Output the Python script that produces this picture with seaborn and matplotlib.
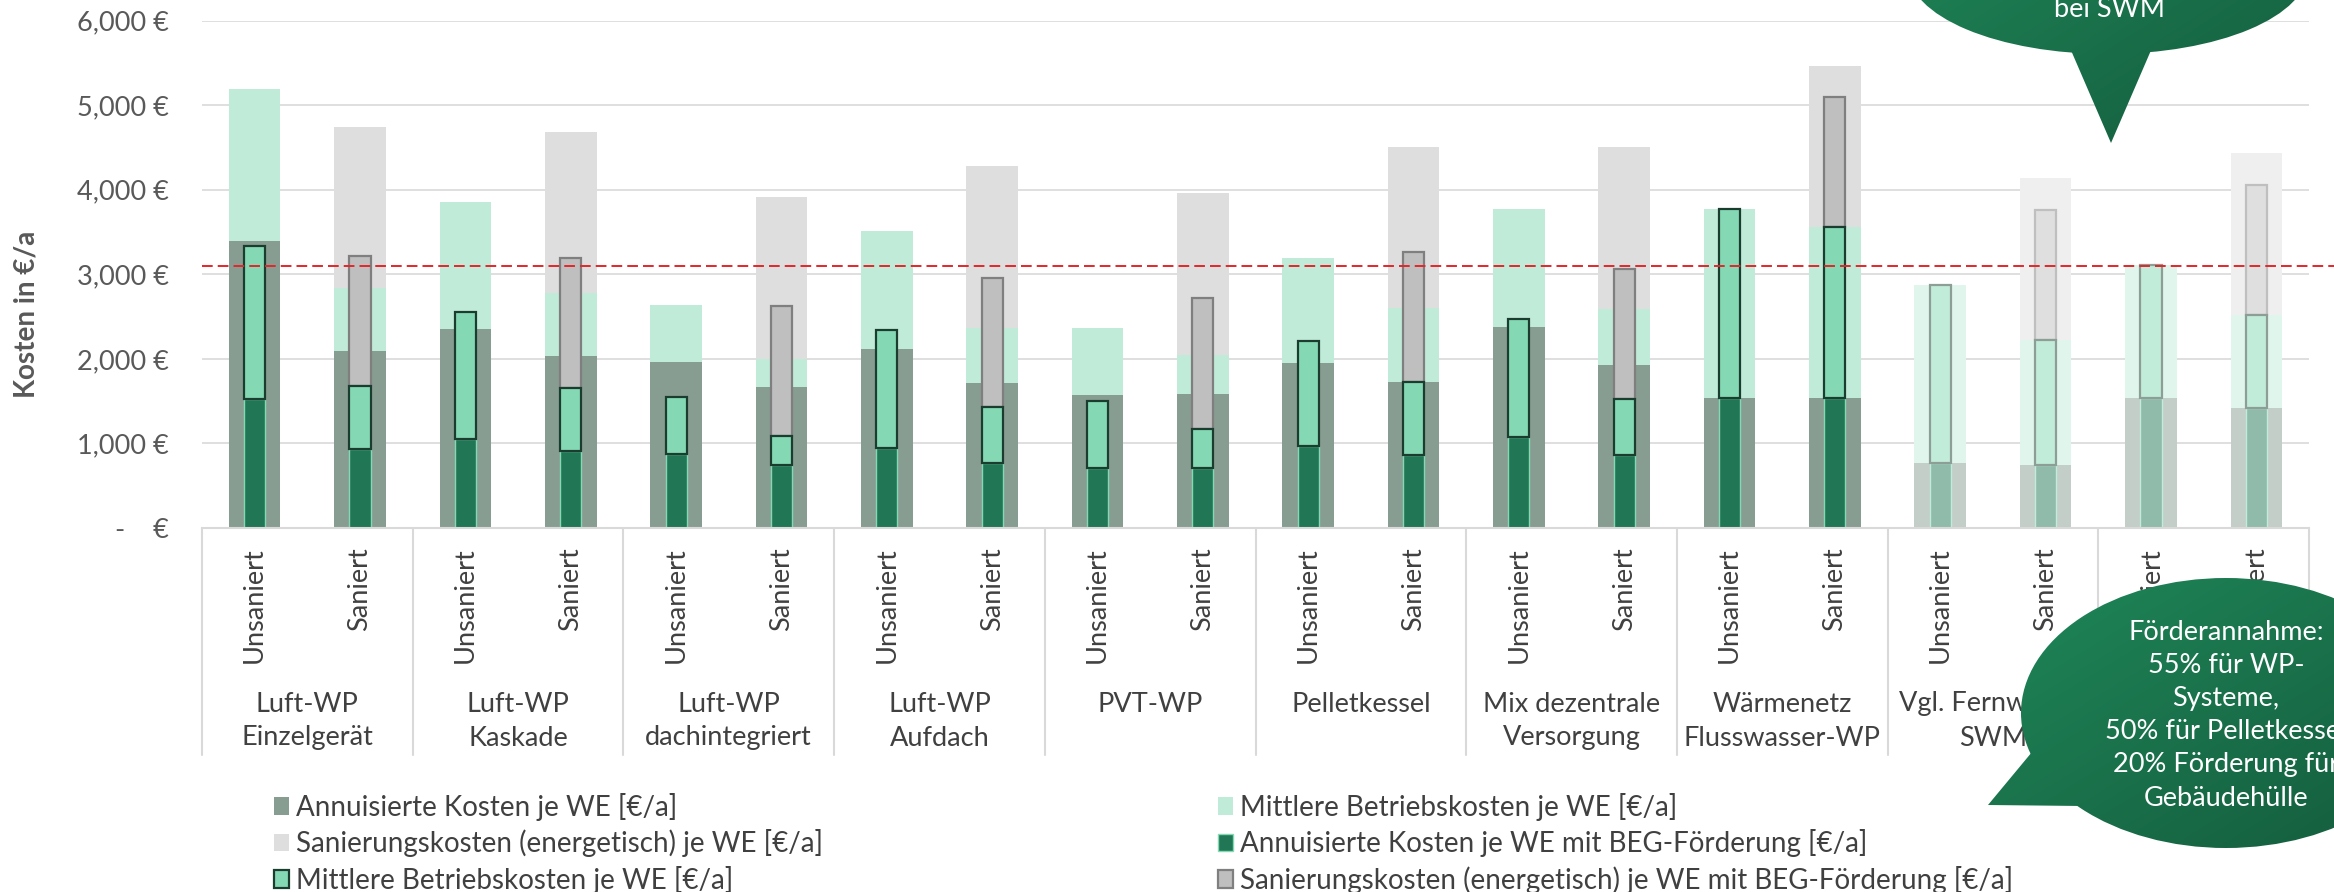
import numpy as np
import matplotlib
matplotlib.use("Agg")
import matplotlib.pyplot as plt
import matplotlib.transforms as mtransforms
from matplotlib.patches import Patch, Ellipse, Polygon
from matplotlib.colors import to_rgb
import seaborn as sns

# ---------------- data ----------------
gruppen = [
    "Luft-WP\nEinzelgerät", "Luft-WP\nKaskade", "Luft-WP\ndachintegriert",
    "Luft-WP\nAufdach", "PVT-WP", "Pelletkessel", "Mix dezentrale\nVersorgung",
    "Wärmenetz\nFlusswasser-WP", "Vgl. Fernwärme\nSWM", "",
]
zustand = ["Unsaniert", "Saniert"]

# annuitized cost per dwelling unit [€/a]
annuisiert = [3390, 2095, 2355, 2030, 1962, 1666, 2118, 1712, 1569, 1581,
              1953, 1729, 2376, 1924, 1539, 1539, 770, 740, 1543, 1425]
# mean operating cost per dwelling unit [€/a]
betrieb = [1800, 745, 1495, 746, 672, 336, 1394, 658, 800, 461,
           1236, 868, 1394, 664, 2230, 2017, 2103, 1480, 1565, 1091]
# energetic refurbishment cost per dwelling unit [€/a]
sanierung = [0, 1905, 0, 1910, 0, 1912, 0, 1907, 0, 1915,
             0, 1912, 0, 1915, 0, 1911, 0, 1920, 0, 1920]
# annuitized cost with BEG funding [€/a]
annuisiert_beg = [1531, 939, 1057, 909, 875, 748, 951, 770, 706, 715,
                  973, 863, 1078, 867, 1539, 1539, 770, 740, 1543, 1425]
# refurbishment cost with BEG funding [€/a]
sanierung_beg = [0, 1535, 0, 1539, 0, 1544, 0, 1531, 0, 1539,
                 0, 1535, 0, 1535, 0, 1543, 0, 1539, 0, 1539]
referenzwert = 3100

blasse_gruppen = [8, 9]   # comparison groups shown faded

legend_namen = [
    "Annuisierte Kosten je WE [€/a]",
    "Sanierungskosten (energetisch) je WE [€/a]",
    "Mittlere Betriebskosten je WE [€/a]",
    "Mittlere Betriebskosten je WE [€/a]",
    "Annuisierte Kosten je WE mit BEG-Förderung [€/a]",
    "Sanierungskosten (energetisch) je WE mit BEG-Förderung [€/a]",
]
ytick_werte = [0, 1000, 2000, 3000, 4000, 5000, 6000]
ytick_texte = ["-    €", "1,000 €", "2,000 €", "3,000 €", "4,000 €", "5,000 €", "6,000 €"]

foerder_text = ["Förderannahme:", "55% für WP-", "Systeme,",
                "50% für Pelletkessel", "20% Förderung für", "Gebäudehülle"]
swm_text = "bei SWM"

# ---------------- styling ----------------
sns.set_theme(style="white")
plt.rcParams["font.family"] = ["Lato", "DejaVu Sans"]

W, H = 2334, 892
fig = plt.figure(figsize=(W / 100, H / 100), dpi=100)
X0, X1, Y_TOP, Y_ZERO = 202, 2309, 20.7, 528.0
ax = fig.add_axes([X0 / W, 1 - Y_ZERO / H, (X1 - X0) / W, (Y_ZERO - Y_TOP) / H])

FS = 19.5
TXT = "#404040"


def blass(c):
    r = np.array(to_rgb(c))
    return tuple(0.5 * r + 0.5)


C_ANN = "#889D92"
C_BET = "#C1EBD9"
C_SAN = "#DEDEDE"
C_ANN_B = "#217655"
C_BET_N = "#84D9B4"
C_SAN_B = "#BFBFBF"
E_BET_N = "#1B3D2F"
E_SAN_B = "#7F7F7F"

ids = [f"{g.replace(chr(10), ' ')}|{z}|{i}" for i, (g, z) in
       enumerate((g, z) for g in gruppen for z in zustand)]
n = len(ids)
faded = {2 * g + k for g in blasse_gruppen for k in range(2)}


def schicht(hoehe, basis, idx, width, face, edge="none", lw=0):
    if not idx:
        return
    sns.barplot(x=[ids[i] for i in idx], y=[hoehe[i] for i in idx],
                order=ids, bottom=[basis[i] for i in idx],
                width=width, color=face, saturation=1, errorbar=None,
                edgecolor=edge, linewidth=lw, ax=ax)


def stapel(idx, blasse):
    f = blass if blasse else (lambda c: c)
    a = np.array(annuisiert, float)
    b = np.array(betrieb, float)
    s = np.array(sanierung, float)
    ab = np.array(annuisiert_beg, float)
    sb = np.array(sanierung_beg, float)
    san_idx = [i for i in idx if s[i] > 0]
    sanb_idx = [i for i in idx if sb[i] > 0]
    # wide bars: annuitized + operating + refurbishment
    schicht(a, np.zeros(n), idx, 0.49, f(C_ANN))
    schicht(b, a, idx, 0.49, f(C_BET))
    schicht(s, a + b, san_idx, 0.49, f(C_SAN))
    # narrow bars: values with BEG funding
    schicht(ab, np.zeros(n), idx, 0.2, f(C_ANN_B), f(C_BET_N), 1.0)
    schicht(sb, ab + b, sanb_idx, 0.2, f(C_SAN_B), f(E_SAN_B), 1.6)
    schicht(b, ab, idx, 0.2, f(C_BET_N), f(E_BET_N), 1.6)


stapel([i for i in range(n) if i not in faded], False)
stapel([i for i in range(n) if i in faded], True)

ax.set_xlim(-0.5, n - 0.5)
ax.set_ylim(0, 6000)
ax.set_xticks([])
ax.set_xlabel("")
ax.set_ylabel("")
ax.set_yticks(ytick_werte)
ax.set_yticklabels(ytick_texte, fontsize=FS, color="#595959")
ax.tick_params(axis="y", length=0, pad=24)
ax.set_axisbelow(True)
ax.yaxis.grid(True, color="#D9D9D9", lw=1.2)
for sp in ["left", "right", "top"]:
    ax.spines[sp].set_visible(False)
ax.spines["bottom"].set_color("#D9D9D9")
ax.spines["bottom"].set_linewidth(1.5)

# reference line
ax.plot([-0.5, n - 0.5 + (W - X1) / ((X1 - X0) / n)], [referenzwert, referenzwert],
        color="#E3262B", lw=1.4, ls=(0, (5.5, 2.6)), clip_on=False, zorder=5)

fig.text(27 / W, 1 - 314 / H, "Kosten in €/a", rotation=90, ha="center",
         va="center", fontsize=20, fontweight="bold", color="#595959")

# category axis: sub-labels, group labels and separators
tr = mtransforms.blended_transform_factory(ax.transData, fig.transFigure)
for i in range(n):
    ax.text(i, 1 - 547 / H, zustand[i % 2], rotation=90, ha="center", va="top",
            fontsize=FS, color=TXT, transform=tr, clip_on=False)
for g, name in enumerate(gruppen):
    mitte = 2 * g + 0.5
    for k, zeile in enumerate(name.split("\n")):
        if zeile:
            ax.text(mitte, 1 - (704 + 34 * k) / H, zeile, ha="center", va="center",
                    fontsize=FS, color=TXT, transform=tr, clip_on=False)
for g in range(len(gruppen) + 1):
    ax.plot([2 * g - 0.5] * 2, [1 - Y_ZERO / H, 1 - 755 / H], color="#D9D9D9",
            lw=1.5, transform=tr, clip_on=False)

# legend in two columns
handles = [
    Patch(facecolor=C_ANN, edgecolor="none"),
    Patch(facecolor=C_SAN, edgecolor="none"),
    Patch(facecolor=C_BET_N, edgecolor=E_BET_N, linewidth=1.6),
    Patch(facecolor=C_BET, edgecolor="none"),
    Patch(facecolor=C_ANN_B, edgecolor=C_BET_N, linewidth=1.0),
    Patch(facecolor=C_SAN_B, edgecolor=E_SAN_B, linewidth=1.6),
]
for spalte, x_px in enumerate([274, 1218]):
    fig.legend(handles[3 * spalte:3 * spalte + 3], legend_namen[3 * spalte:3 * spalte + 3],
               loc="upper left", bbox_to_anchor=(x_px / W, 1 - 793 / H),
               frameon=False, fontsize=20, labelcolor=TXT, handlelength=0.55,
               handleheight=0.6, handletextpad=0.25, labelspacing=0.3,
               borderpad=0, borderaxespad=0)

# speech bubbles
ov = fig.add_axes([0, 0, 1, 1], zorder=10)
ov.set_xlim(0, W)
ov.set_ylim(H, 0)
ov.axis("off")


def blase(cx, cy, a, b, spitze, hell, dunkel):
    ell = Ellipse((cx, cy), 2 * a, 2 * b, facecolor="none", edgecolor="none")
    poly = Polygon(spitze, closed=True, facecolor="none", edgecolor="none")
    xs = [cx - a, cx + a] + [p[0] for p in spitze]
    ys = [cy - b, cy + b] + [p[1] for p in spitze]
    x0, x1, y0, y1 = min(xs), max(xs), min(ys), max(ys)
    gx, gy = np.meshgrid(np.linspace(0, 1, 200), np.linspace(0, 1, 200))
    t = ((gx + gy) / 2)[..., None]
    img = np.array(to_rgb(hell)) * (1 - t) + np.array(to_rgb(dunkel)) * t
    for p in (ell, poly):
        ov.add_patch(p)
        im = ov.imshow(img, extent=(x0, x1, y1, y0), origin="upper",
                       aspect="auto", interpolation="bilinear")
        im.set_clip_path(p)


blase(2108, -30, 200, 84, [(2070, 48), (2152, 48), (2111, 143)], "#1F8759", "#145B3C")
ov.text(2109, 17, swm_text, ha="center", va="baseline", fontsize=FS, color="white")

blase(2226, 713, 205, 135, [(2032, 752), (1988, 805), (2082, 806)], "#1F8759", "#145B3C")
for k, zeile in enumerate(foerder_text):
    ov.text(2226, 632 + 33.2 * k, zeile, ha="center", va="center", fontsize=FS,
            color="white")
ov.set_xlim(0, W)
ov.set_ylim(H, 0)

fig.savefig("out.png", dpi=100)
